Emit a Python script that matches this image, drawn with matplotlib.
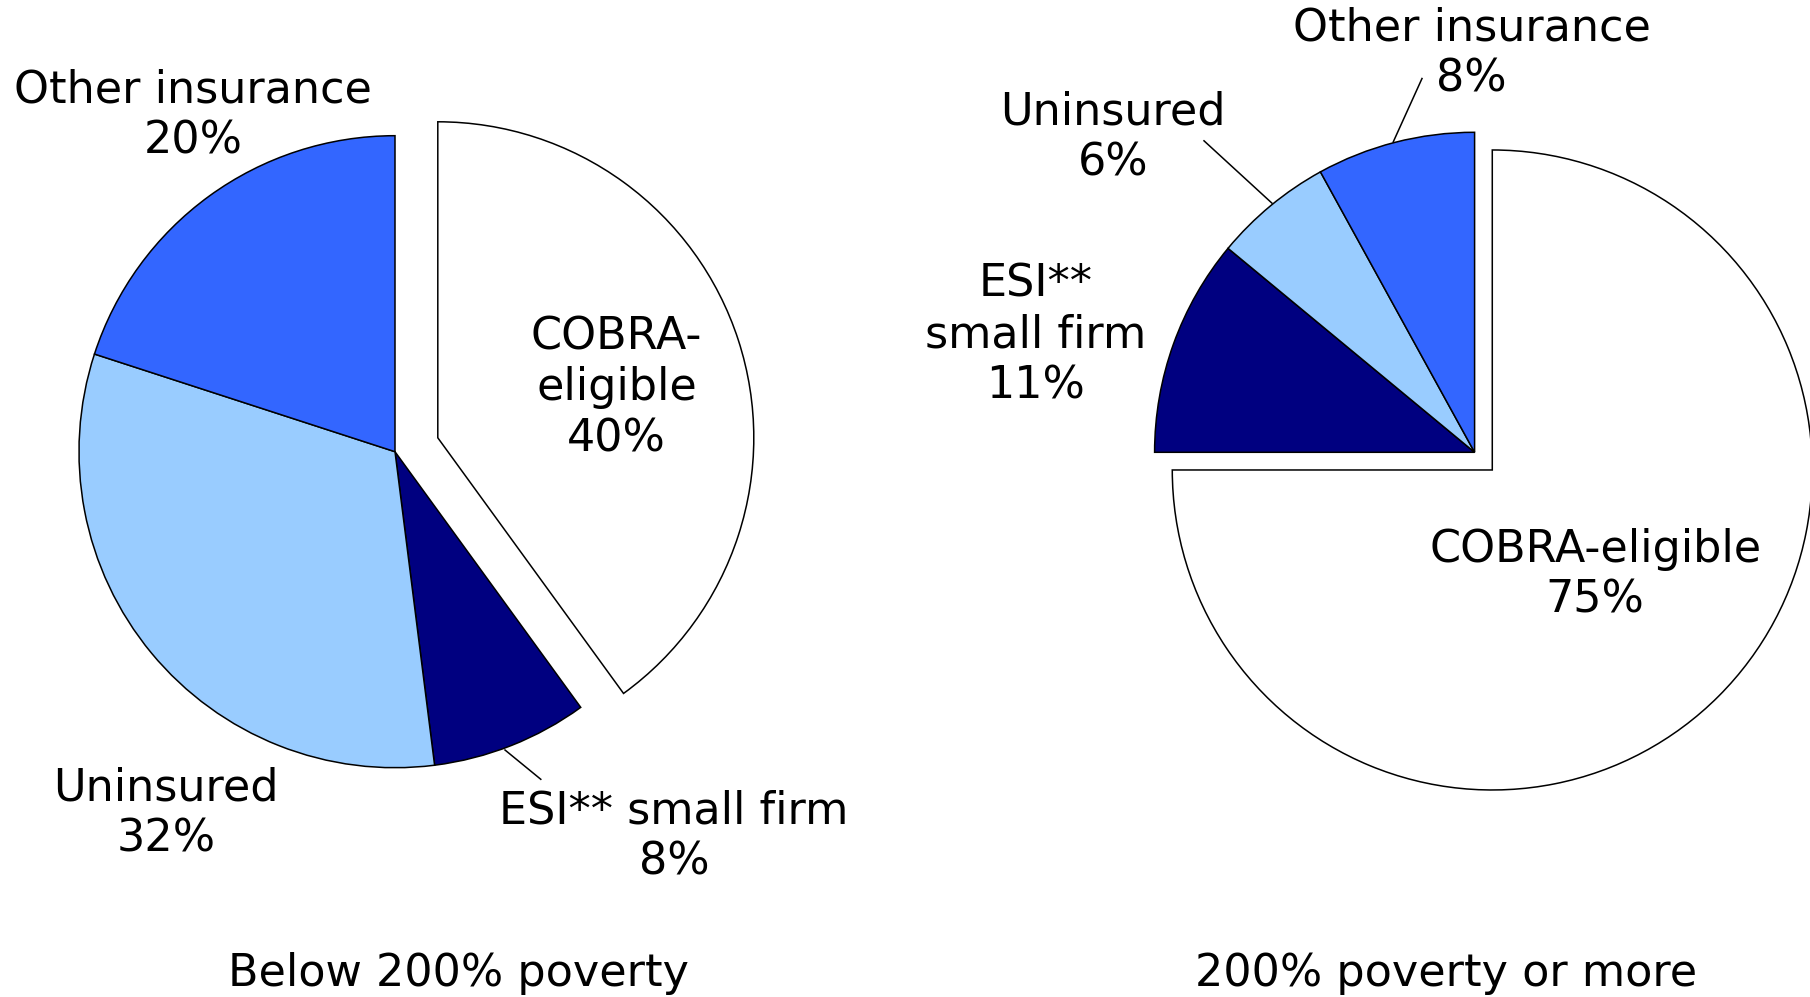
import matplotlib
matplotlib.use("Agg")
import matplotlib.pyplot as plt

plt.rcParams['font.family'] = ['DejaVu Sans']

# ---- data ----
categories = ["COBRA-eligible", "ESI** small firm", "Uninsured", "Other insurance"]
colors = ["#FFFFFF", "#000080", "#99CCFF", "#3366FF"]
left_values = [40, 8, 32, 20]
right_values = [75, 11, 6, 8]
left_title = "Below 200% poverty"
right_title = "200% poverty or more"

W, H = 1810, 997
fig = plt.figure(figsize=(W / 100, H / 100), dpi=100)
ax = fig.add_axes([0, 0, 1, 1])


def Y(y):
    return H - y


wp = dict(edgecolor='black', linewidth=1.1)

# left pie (explode offset is in data units = pixels here)
ax.pie(left_values, colors=colors, startangle=90, counterclock=False,
       explode=[45, 0, 0, 0], center=(395, Y(451.7)), radius=316,
       wedgeprops=wp, frame=True)
# right pie
ax.pie(right_values, colors=colors, startangle=90, counterclock=False,
       explode=[25, 0, 0, 0], center=(1474.6, Y(452.3)), radius=320,
       wedgeprops=wp, frame=True)
ax.set_xlim(0, W)
ax.set_ylim(0, H)
ax.set_aspect('equal')
ax.axis('off')

fs = 32
kw = dict(ha='center', va='center', fontsize=fs, linespacing=1.23, color='black')

# left labels
ax.text(192.8, Y(115.4), f"{categories[3]}\n{left_values[3]}%", **kw)
ax.text(616.4, Y(387.8), f"COBRA-\neligible\n{left_values[0]}%", **kw)
ax.text(166.2, Y(813.8), f"{categories[2]}\n{left_values[2]}%", **kw)
ax.text(674.1, Y(836.9), f"{categories[1]}\n{left_values[1]}%", **kw)
ax.plot([505, 540.8], [Y(750), Y(779.3)], color='black', lw=1.1)
ax.text(458.3, Y(973), left_title, **kw)

# right labels
ax.text(1471.7, Y(53.1), f"{categories[3]}\n{right_values[3]}%", **kw)
ax.text(1112.7, Y(137.4), f"{categories[2]}\n{right_values[2]}%", **kw)
ax.text(1035.4, Y(334.7), f"ESI**\nsmall firm\n{right_values[1]}%", **kw)
ax.text(1595.3, Y(574.8), f"{categories[0]}\n{right_values[0]}%", **kw)
ax.plot([1204, 1272], [Y(140.8), Y(203.2)], color='black', lw=1.1)
ax.plot([1422, 1393.2], [Y(78.5), Y(142)], color='black', lw=1.1)
ax.text(1446.3, Y(973), right_title, **kw)

fig.savefig("out.png", dpi=100, facecolor='white')
